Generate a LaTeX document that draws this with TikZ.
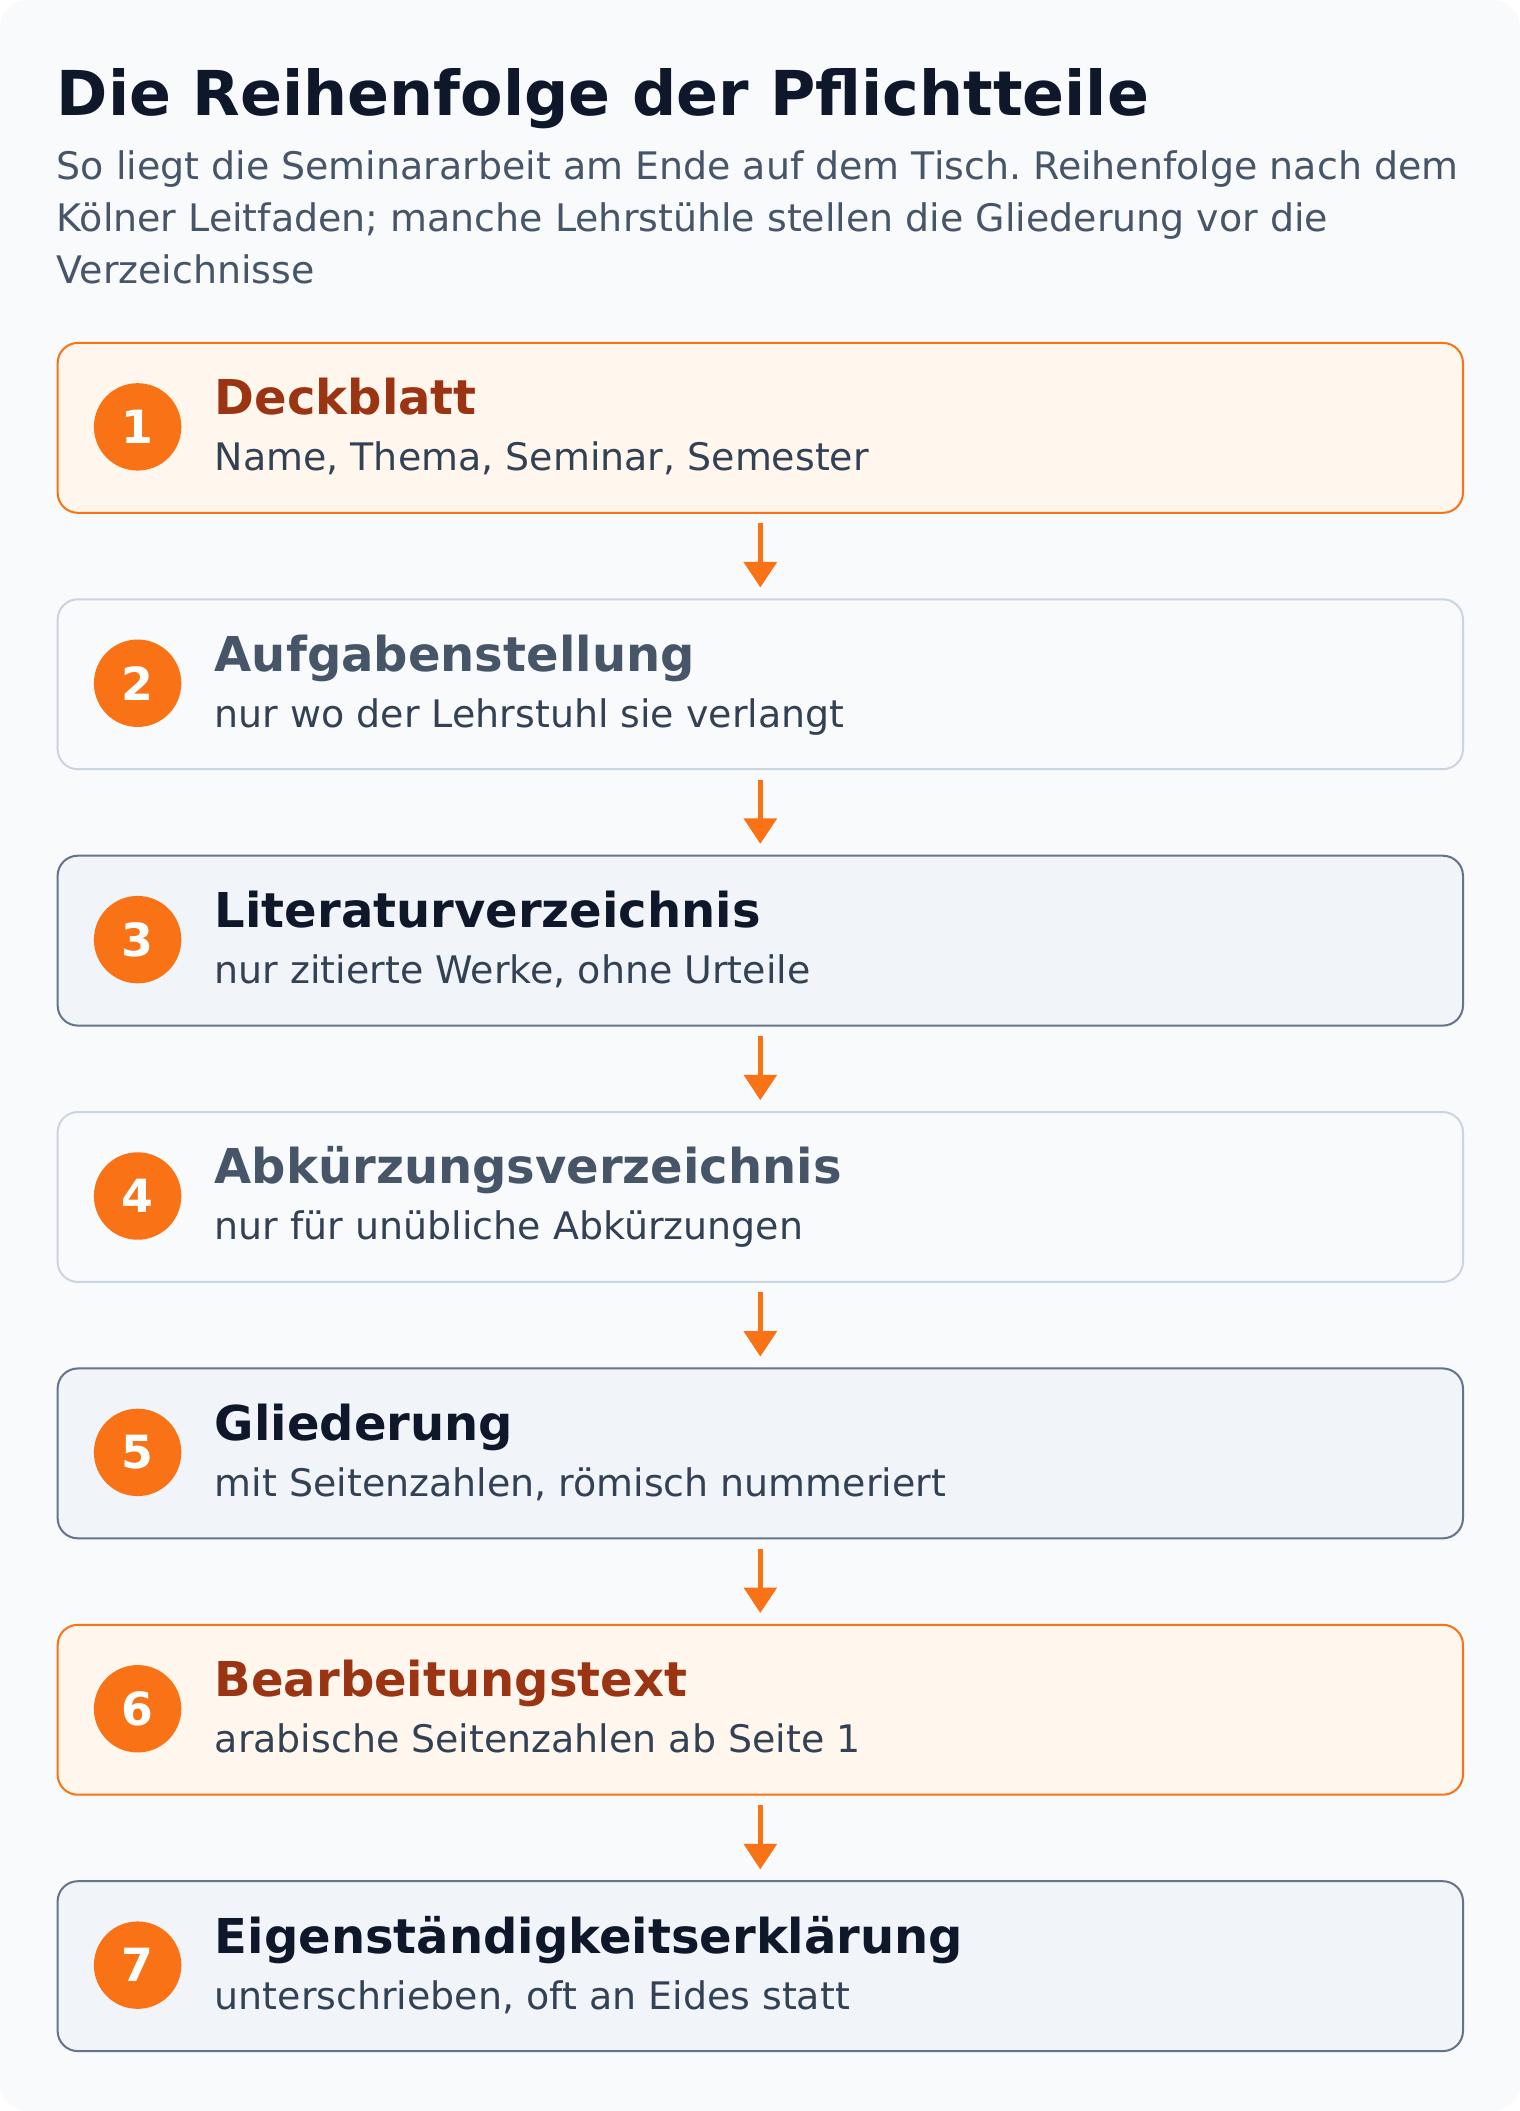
\documentclass[tikz,border=0pt]{standalone}
\usepackage{fontspec}
\setmainfont{DejaVu Sans}
\frenchspacing
\usetikzlibrary{arrows.meta}
\definecolor{bgc}{HTML}{F8FAFC}
\definecolor{titc}{HTML}{0F172A}
\definecolor{subc}{HTML}{475569}
\definecolor{txtc}{HTML}{334155}
\definecolor{orc}{HTML}{F97316}
\definecolor{orfill}{HTML}{FFF7ED}
\definecolor{ortxt}{HTML}{9A3412}
\definecolor{slfill}{HTML}{F1F5F9}
\definecolor{slborder}{HTML}{64748B}
\definecolor{ltborder}{HTML}{CBD5E1}
\tikzset{
  basebox/.style={rectangle, rounded corners=15, line width=1.5, minimum width=1044.8, minimum height=126.3, anchor=north west, inner sep=0},
  orbox/.style={basebox, draw=orc, fill=orfill},
  ltbox/.style={basebox, draw=ltborder, fill=bgc},
  slbox/.style={basebox, draw=slborder, fill=slfill},
  numc/.style={circle, fill=orc, minimum size=65, inner sep=0, text=white, font=\fontsize{34}{40}\selectfont\bfseries},
  boxtitle/.style={anchor=base west, inner sep=0, font=\fontsize{35.7}{42}\selectfont\bfseries},
  boxsub/.style={anchor=base west, inner sep=0, text=txtc, font=\fontsize{28.2}{34}\selectfont},
  hsub/.style={anchor=base west, inner sep=0, text=subc, font=\fontsize{28.2}{34}\selectfont},
  arr/.style={draw=orc, line width=4, -{Triangle[width=24, length=19]}},
}
\begin{document}
\begin{tikzpicture}[x=1pt, y=-1pt]
\useasboundingbox (0,0) rectangle (1130,1569.4);
\fill[bgc, rounded corners=20] (0,0) rectangle (1130,1569.4);
\node[anchor=base west, inner sep=0, text=titc, font=\fontsize{46}{56}\selectfont\bfseries] (title) at (42,85.5) {Die Reihenfolge der Pflichtteile};
\node[hsub] (sub1) at (42,133.8) {So liegt die Seminararbeit am Ende auf dem Tisch. Reihenfolge nach dem};
\node[hsub] (sub2) at (42,172.2) {Kölner Leitfaden; manche Lehrstühle stellen die Gliederung vor die};
\node[hsub] (sub3) at (42,210.5) {Verzeichnisse};
% boxes
\foreach \i/\sty/\tc/\ttl/\sub in {
  1/orbox/ortxt/Deckblatt/{Name, Thema, Seminar, Semester},
  2/ltbox/subc/Aufgabenstellung/nur wo der Lehrstuhl sie verlangt,
  3/slbox/titc/Literaturverzeichnis/{nur zitierte Werke, ohne Urteile},
  4/ltbox/subc/Abkürzungsverzeichnis/nur für unübliche Abkürzungen,
  5/slbox/titc/Gliederung/{mit Seitenzahlen, römisch nummeriert},
  6/orbox/ortxt/Bearbeitungstext/arabische Seitenzahlen ab Seite 1,
  7/slbox/titc/Eigenständigkeitserklärung/{unterschrieben, oft an Eides statt}}
{
  \pgfmathsetmacro{\tp}{254.2+190.6*(\i-1)}
  \node[\sty] (b\i) at (42.1,\tp) {};
  \node[numc] (n\i) at (102.3,\tp+63.15) {\i};
  \node[boxtitle, text=\tc] (t\i) at (159.5,\tp+54.2) {\ttl};
  \node[boxsub] (s\i) at (159.5,\tp+95.8) {\sub};
}
\foreach \i [evaluate=\i as \j using int(\i+1)] in {1,...,6}{
  \draw[arr] ([yshift=-7pt]b\i.south) -- ([yshift=8pt]b\j.north);
}
\end{tikzpicture}
\end{document}
